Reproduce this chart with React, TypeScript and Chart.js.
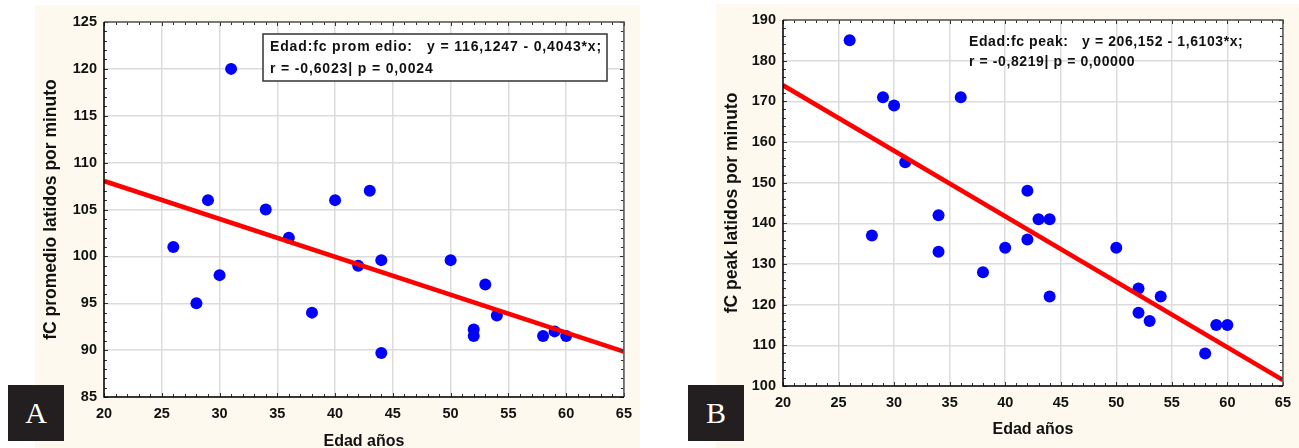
import React, { useEffect, useRef } from "react";
import { Chart, registerables } from "chart.js";

Chart.register(...registerables);

// ---------- Data ----------
const agesA = [26, 28, 29, 30, 31, 34, 36, 38, 40, 42, 43, 44, 44, 50, 52, 52, 53, 54, 58, 59, 60];
const fcPromedio = [101, 95, 106, 98, 120, 105, 102, 94, 106, 99, 107, 99.6, 89.7, 99.6, 92.2, 91.5, 97, 93.7, 91.5, 92, 91.5];

const agesB = [26, 28, 29, 30, 31, 34, 34, 36, 38, 40, 42, 42, 43, 44, 44, 50, 52, 52, 53, 54, 58, 59, 60];
const fcPeak = [185, 137, 171, 169, 155, 142, 133, 171, 128, 134, 148, 136, 141, 141, 122, 134, 124, 118, 116, 122, 108, 115, 115];

const xRange = [20, 65];
const yRangeA = [85, 125];
const yRangeB = [100, 190];

const fitA = { intercept: 116.1247, slope: -0.4043 };
const fitB = { intercept: 206.152, slope: -1.6103 };

const legendA = ["Edad:fc prom edio:   y = 116,1247 - 0,4043*x;", "r = -0,6023| p = 0,0024"];
const legendB = ["Edad:fc peak:   y = 206,152 - 1,6103*x;", "r = -0,8219| p = 0,00000"];

const xTitle = "Edad años";
const yTitleA = "fC promedio latidos por minuto";
const yTitleB = "fC peak latidos por minuto";

// ---------- Styles ----------
const CREAM = "#fdf9ee";
const FONT = "'Liberation Sans', Arial, sans-serif";

type PanelCfg = {
  left: number;
  top: number;
  width: number;
  height: number;
  areaLeft: number;
  padTop: number;
  padRight: number;
  xScaleHeight: number;
  xTitlePad: number;
  ages: number[];
  values: number[];
  yRange: number[];
  yStep: number;
  yMinor: number;
  fit: { intercept: number; slope: number };
  yTitle: string;
  legend: string[];
  legendX: number;
  legendY: number[];
  legendSpacing: string;
  legendBox: null | { x: number; y: number; w: number; h: number };
  xTickPad: number;
};

function Panel({ cfg }: { cfg: PanelCfg }) {
  const ref = useRef<HTMLCanvasElement | null>(null);
  useEffect(() => {
    if (!ref.current) return;
    const points = cfg.ages.map((a, i) => ({ x: a, y: cfg.values[i] }));
    const line = xRange.map((x) => ({ x, y: cfg.fit.intercept + cfg.fit.slope * x }));

    const bgPlugin = {
      id: "bg",
      beforeDraw(chart: any) {
        const { ctx, chartArea: ca } = chart;
        ctx.save();
        ctx.fillStyle = CREAM;
        ctx.fillRect(0, 0, chart.width, chart.height);
        ctx.fillStyle = "#ffffff";
        ctx.fillRect(ca.left, ca.top, ca.right - ca.left, ca.bottom - ca.top);
        ctx.restore();
      },
    };

    const framePlugin = {
      id: "frame",
      afterDatasetsDraw(chart: any) {
        const { ctx, chartArea: ca, scales } = chart;
        const xs = scales.x;
        const ys = scales.y;
        ctx.save();
        ctx.strokeStyle = "#333";
        ctx.lineWidth = 1;
        for (let v = xRange[0]; v <= xRange[1]; v += 1) {
          const px = Math.round(xs.getPixelForValue(v)) + 0.5;
          const len = v % 5 === 0 ? 4 : 3;
          ctx.beginPath();
          ctx.moveTo(px, ca.bottom);
          ctx.lineTo(px, ca.bottom - len);
          ctx.moveTo(px, ca.top);
          ctx.lineTo(px, ca.top + len);
          ctx.stroke();
        }
        for (let v = cfg.yRange[0]; v <= cfg.yRange[1]; v += cfg.yMinor) {
          const py = Math.round(ys.getPixelForValue(v)) + 0.5;
          const len = v % cfg.yStep === 0 ? 4 : 3;
          ctx.beginPath();
          ctx.moveTo(ca.left, py);
          ctx.lineTo(ca.left + len, py);
          ctx.moveTo(ca.right, py);
          ctx.lineTo(ca.right - len, py);
          ctx.stroke();
        }
        ctx.lineWidth = 1.5;
        ctx.strokeStyle = "#555";
        ctx.beginPath();
        ctx.moveTo(ca.left, ca.top);
        ctx.lineTo(ca.right, ca.top);
        ctx.lineTo(ca.right, ca.bottom);
        ctx.stroke();
        ctx.strokeStyle = "#000";
        ctx.beginPath();
        ctx.moveTo(ca.left, ca.top);
        ctx.lineTo(ca.left, ca.bottom);
        ctx.lineTo(ca.right, ca.bottom);
        ctx.stroke();
        ctx.restore();
      },
      afterDraw(chart: any) {
        const { ctx } = chart;
        ctx.save();
        if (cfg.legendBox) {
          const b = cfg.legendBox;
          ctx.fillStyle = "#ffffff";
          ctx.fillRect(b.x, b.y, b.w, b.h);
          ctx.strokeStyle = "#333";
          ctx.lineWidth = 1.5;
          ctx.strokeRect(b.x, b.y, b.w, b.h);
        }
        ctx.fillStyle = "#111";
        ctx.font = `bold 14px ${FONT}`;
        (ctx as any).letterSpacing = cfg.legendSpacing;
        ctx.textBaseline = "middle";
        ctx.textAlign = "left";
        cfg.legend.forEach((t, i) => ctx.fillText(t, cfg.legendX, cfg.legendY[i]));
        ctx.restore();
      },
    };

    const chart = new Chart(ref.current, {
      type: "scatter",
      data: {
        datasets: [
          {
            type: "line",
            data: line,
            borderColor: "#ff0000",
            borderWidth: 4.5,
            pointRadius: 0,
            fill: false,
            order: 0,
          } as any,
          {
            type: "scatter",
            data: points,
            backgroundColor: "#0000ff",
            borderWidth: 0,
            pointRadius: 6,
            order: 1,
          },
        ],
      },
      options: {
        responsive: false,
        animation: false,
        events: [],
        layout: { padding: { left: 0, top: cfg.padTop, right: cfg.padRight, bottom: 0 } },
        plugins: { legend: { display: false }, tooltip: { enabled: false } },
        scales: {
          x: {
            type: "linear",
            min: xRange[0],
            max: xRange[1],
            afterFit: (s: any) => {
              s.height = cfg.xScaleHeight;
            },
            ticks: {
              stepSize: 5,
              padding: cfg.xTickPad,
              color: "#111",
              font: { family: FONT, size: 14.5, weight: "bold" },
              maxRotation: 0,
            },
            grid: { color: "#dcdcdc", lineWidth: 1.5, drawTicks: false },
            border: { display: false },
            title: {
              display: true,
              text: xTitle,
              color: "#111",
              font: { family: FONT, size: 16, weight: "bold" },
              padding: { top: 0, bottom: cfg.xTitlePad },
            },
          },
          y: {
            type: "linear",
            min: cfg.yRange[0],
            max: cfg.yRange[1],
            afterFit: (s: any) => {
              s.width = cfg.areaLeft;
            },
            ticks: {
              stepSize: cfg.yStep,
              padding: 7,
              color: "#111",
              font: { family: FONT, size: 14.5, weight: "bold" },
            },
            grid: { color: "#dcdcdc", lineWidth: 1.5, drawTicks: false },
            border: { display: false },
            title: {
              display: true,
              text: cfg.yTitle,
              color: "#111",
              font: { family: FONT, size: 17.5, weight: "bold" },
              padding: { top: 6, bottom: 0 },
            },
          },
        },
      },
      plugins: [bgPlugin, framePlugin],
    } as any);
    return () => chart.destroy();
  }, [cfg]);

  return (
    <canvas
      ref={ref}
      width={cfg.width}
      height={cfg.height}
      style={{ position: "absolute", left: cfg.left, top: cfg.top, width: cfg.width, height: cfg.height, display: "block" }}
    />
  );
}

const cfgA: PanelCfg = {
  left: 35,
  top: 5,
  width: 605,
  height: 449,
  areaLeft: 69,
  padTop: 17,
  padRight: 15,
  xScaleHeight: 57,
  xTitlePad: 3,
  ages: agesA,
  values: fcPromedio,
  yRange: yRangeA,
  yStep: 5,
  yMinor: 1,
  fit: fitA,
  yTitle: yTitleA,
  legend: legendA,
  legendX: 235,
  legendY: [42, 64],
  legendSpacing: "0.85px",
  legendBox: { x: 228, y: 29, w: 344, h: 47 },
  xTickPad: 8,
};

const cfgB: PanelCfg = {
  left: 716,
  top: 4,
  width: 583,
  height: 444,
  areaLeft: 67,
  padTop: 16,
  padRight: 12,
  xScaleHeight: 62,
  xTitlePad: 9,
  ages: agesB,
  values: fcPeak,
  yRange: yRangeB,
  yStep: 10,
  yMinor: 2,
  fit: fitB,
  yTitle: yTitleB,
  legend: legendB,
  legendX: 253,
  legendY: [38, 58],
  legendSpacing: "0.6px",
  legendBox: null,
  xTickPad: 8,
};

const labelStyle = (left: number): React.CSSProperties => ({
  position: "absolute",
  left,
  top: 385,
  width: 56,
  height: 56,
  background: "#231f20",
  color: "#ffffff",
  fontFamily: "'Liberation Serif', 'Times New Roman', serif",
  fontSize: 30,
  lineHeight: "56px",
  textAlign: "center",
  zIndex: 2,
});

export default function App() {
  return (
    <div
      style={{
        position: "fixed",
        left: 0,
        top: 0,
        width: 1299,
        height: 448,
        overflow: "hidden",
        background: "#ffffff",
      }}
    >
      <Panel cfg={cfgA} />
      <Panel cfg={cfgB} />
      <div style={labelStyle(8)}>A</div>
      <div style={labelStyle(688)}>B</div>
    </div>
  );
}
